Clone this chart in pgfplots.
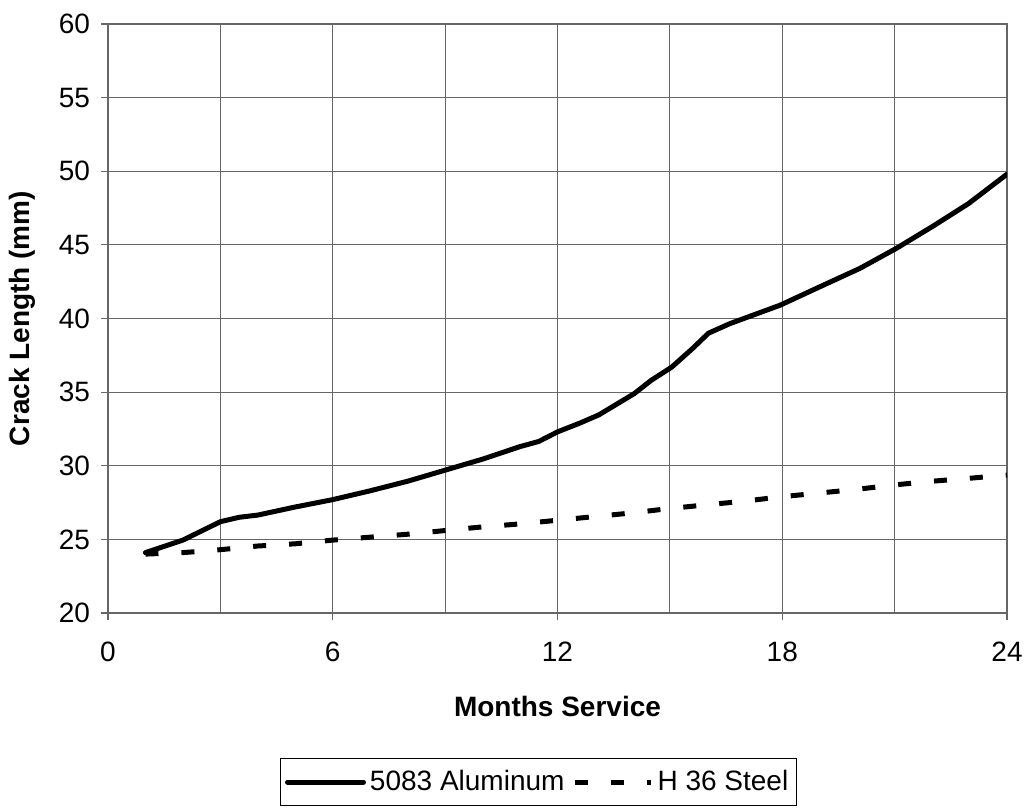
\documentclass[border=0pt]{standalone}
\usepackage{fontspec}
\setmainfont{Liberation Sans}
\usepackage{pgfplots}
\pgfplotsset{compat=1.18}
\begin{document}
\begin{tikzpicture}
\begin{axis}[
  name=ax,
  scale only axis,
  width=449.5pt, height=294.5pt,
  xmin=0, xmax=24, ymin=20, ymax=60,
  xtick={0,6,12,18,24},
  minor xtick={3,9,15,21},
  ytick={20,25,30,35,40,45,50,55,60},
  grid=both,
  grid style={black!60, line width=0.6pt},
  minor grid style={black!60, line width=0.6pt},
  axis line style={black!60, line width=0.6pt},
  tick style={black!60, line width=0.6pt},
  tick align=outside,
  major tick length=3.5pt,
  minor tick length=0pt,
  xtick pos=bottom, ytick pos=left,
  /pgf/number format/assume math mode=true,
  tick label style={font=\fontsize{14}{16}\selectfont},
  xticklabel style={yshift=-7.5pt},
  yticklabel style={xshift=-2pt},
  xlabel={\textbf{Months Service}},
  ylabel={\textbf{Crack Length (mm)}},
  label style={font=\fontsize{14}{16}\selectfont},
  xlabel style={at={(axis description cs:0.5,0)}, anchor=center, yshift=-46.5pt},
  ylabel style={at={(axis description cs:0,0.5)}, anchor=center, yshift=43pt},
  legend columns=2,
  legend style={at={(0.479,-0.287)}, anchor=center, draw=black, line width=0.5pt,
    font=\fontsize{14}{16}\selectfont, inner ysep=4pt, inner xsep=2pt,
    /tikz/every even column/.append style={column sep=2pt}},
  legend image code/.code={\draw[#1] (0pt,0pt) -- (38pt,0pt);},
]
\addplot[black, line width=2.5pt, line join=round, line cap=round] coordinates {
(1,24.1) (2,24.95) (3,26.2) (3.5,26.5) (4,26.65) (5,27.2) (6,27.7) (7,28.3) (8,28.95)
(9,29.7) (10,30.45) (11,31.3) (11.5,31.65) (12,32.3) (12.6,32.9) (13.1,33.45) (14.05,34.9)
(14.5,35.8) (15.05,36.7) (15.6,37.95) (16.03,39.0) (16.6,39.65) (17.94,40.9)
(19,42.15) (20.07,43.4) (21.05,44.77) (22.03,46.28) (22.97,47.8) (24,49.8)
};
\addlegendentry{5083 Aluminum}
\addplot[black, line width=2.5pt, dash pattern=on 6.5pt off 11.5pt] coordinates {
(1,24.0) (2,24.1) (3,24.3) (4,24.55) (5,24.7) (6,24.95) (7,25.15) (8,25.35) (9,25.6)
(10,25.85) (11,26.05) (12,26.3) (13,26.55) (14,26.8) (15,27.1) (16,27.35) (17,27.6)
(18,27.9) (19,28.15) (20,28.4) (21,28.7) (22,28.95) (23,29.15) (24,29.37)
};
\addlegendentry{H 36 Steel}
\end{axis}
\pgfresetboundingbox
\path ([shift={(-54pt,-97.5pt)}]ax.south west) rectangle ([shift={(10pt,12pt)}]ax.north east);
\end{tikzpicture}
\end{document}
